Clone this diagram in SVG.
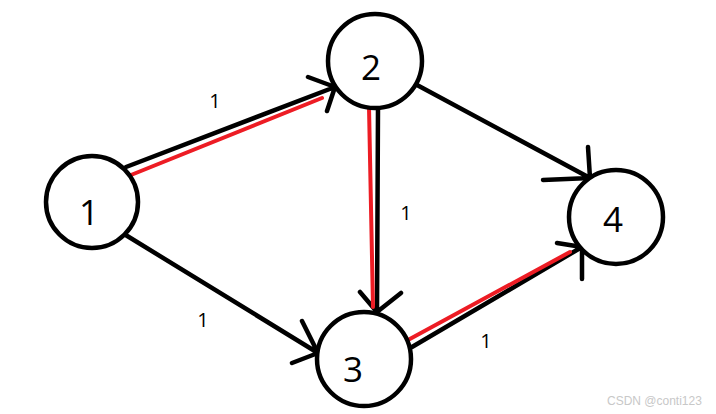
<svg xmlns="http://www.w3.org/2000/svg" width="716" height="414" viewBox="0 0 716 414">
<style>
.node circle{fill:#fff;stroke:#000;stroke-width:4.5}
.node text{font-family:"Open Sans","Liberation Sans",sans-serif;font-size:35px;fill:#000;text-anchor:middle}
.edge{fill:none;stroke:#000;stroke-width:4.5;stroke-linecap:round;stroke-linejoin:round}
.path{fill:none;stroke:#ed1c24;stroke-width:4;stroke-linecap:round}
.lbl{font-family:"Open Sans","Liberation Sans",sans-serif;font-size:20px;fill:#000;text-anchor:middle}
.wm{font-family:"Liberation Sans",sans-serif;font-size:12px;fill:#c8c8c8}
</style>
<rect width="716" height="414" fill="#fff"/>
<g id="connectors">
<g id="e12"><path class="edge" d="M126,167 L335,87 M308,77 L335,87 L327,111"/><path class="path" d="M126,177 L322,98"/><text class="lbl" x="215" y="108">1</text></g>
<g id="e23"><path class="edge" d="M378,107 L377,312 M360,292 L377,312 L401,293"/><path class="path" d="M369,107 L373,307"/><text class="lbl" x="406" y="220">1</text></g>
<g id="e13"><path class="edge" d="M124,234 L318,353 M302,321 L318,353 L292,363"/><text class="lbl" x="203" y="327">1</text></g>
<g id="e34"><path class="edge" d="M412,347 L582,247 M557,243 L582,247 L582,279"/><path class="path" d="M408,340 L570,252"/><text class="lbl" x="486" y="348">1</text></g>
<g id="e24"><path class="edge" d="M417,85 L590,178 M588,147 L590,178 L543,180"/></g>
</g>
<g id="n1" class="node"><circle cx="92" cy="202" r="46"/><text x="89" y="225">1</text></g>
<g id="n2" class="node"><circle cx="375" cy="61" r="47"/><text x="371" y="80">2</text></g>
<g id="n3" class="node"><circle cx="364" cy="359" r="47"/><text x="353" y="382">3</text></g>
<g id="n4" class="node"><circle cx="616" cy="217" r="47"/><text x="613" y="232">4</text></g>
<text class="wm" x="607" y="405">CSDN @conti123</text>
</svg>
